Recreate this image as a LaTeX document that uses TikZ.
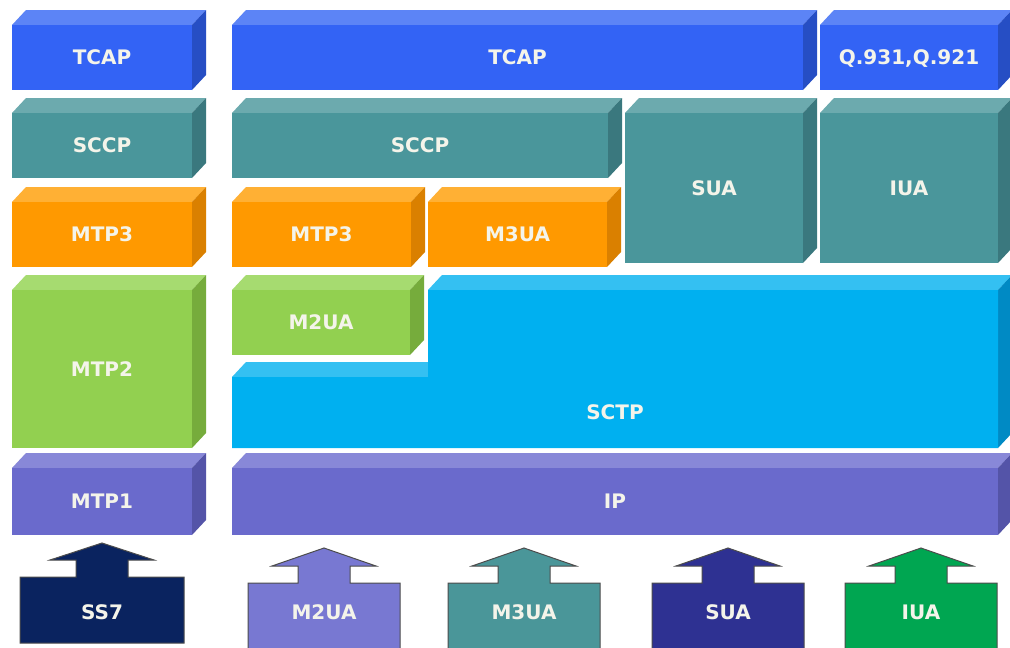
\documentclass[tikz,border=0pt]{standalone}
\usepackage{fontspec}
\setmainfont{DejaVu Sans}

% front / top / side shades of each layer colour
\definecolor{blueF}{RGB}{51,99,245}
\definecolor{blueT}{RGB}{92,132,246}
\definecolor{blueS}{RGB}{38,78,196}
\definecolor{tealF}{RGB}{74,150,155}
\definecolor{tealT}{RGB}{108,170,174}
\definecolor{tealS}{RGB}{58,120,126}
\definecolor{orngF}{RGB}{255,153,0}
\definecolor{orngT}{RGB}{255,176,52}
\definecolor{orngS}{RGB}{218,128,0}
\definecolor{grnF}{RGB}{146,208,80}
\definecolor{grnT}{RGB}{166,219,112}
\definecolor{grnS}{RGB}{118,172,60}
\definecolor{prplF}{RGB}{106,106,204}
\definecolor{prplT}{RGB}{136,136,216}
\definecolor{prplS}{RGB}{84,84,168}
\definecolor{skyF}{RGB}{0,176,240}
\definecolor{skyT}{RGB}{52,192,242}
\definecolor{skyS}{RGB}{0,138,196}
% feeding protocol arrows
\definecolor{ssnavy}{RGB}{10,35,95}
\definecolor{mtwo}{RGB}{120,120,210}
\definecolor{mthree}{RGB}{74,150,153}
\definecolor{suablue}{RGB}{46,49,146}
\definecolor{iuagreen}{RGB}{0,166,81}
\definecolor{labelcol}{RGB}{244,244,234}

\tikzset{
  lbl/.style={text=labelcol, font=\bfseries\fontsize{20}{20}\selectfont,
              inner sep=0pt, text height=14.6pt, text depth=0pt},
  arrowshape/.style={draw=black!70, line width=1pt, line join=miter},
}

% 3-D slab: #1 name, #2 x1, #3 y1, #4 x2, #5 y2 (front face), #6 colour, #7 label
\newcommand\stackblock[7]{%
  \fill[#6T] (#2,#3) -- (#2+14,#3-15) -- (#4+14,#3-15) -- (#4,#3) -- cycle;
  \fill[#6S] (#4,#3) -- (#4+14,#3-15) -- (#4+14,#5-15) -- (#4,#5) -- cycle;
  \fill[#6F] (#2,#3) rectangle (#4,#5);
  \node[lbl] (#1) at ({(#2+#4)/2},{(#3+#5)/2}) {#7};
}

% block arrow: #1 name, #2 centre x, #3 tip y, #4 box top, #5 box half width,
% #6 bottom, #7 colour, #8 label
\newcommand\feedarrow[8]{%
  \filldraw[arrowshape, fill=#7]
    (#2,#3) -- (#2+52,#4-17) -- (#2+26,#4-17) -- (#2+26,#4) -- (#2+#5,#4)
    -- (#2+#5,#6) -- (#2-#5,#6) -- (#2-#5,#4) -- (#2-26,#4) -- (#2-26,#4-17)
    -- (#2-52,#4-17) -- cycle;
  \node[lbl] (#1) at (#2,612) {#8};
}

\begin{document}
\begin{tikzpicture}[x=1pt,y=-1pt]
\clip (0,0) rectangle (1010,648);
\fill[white] (0,0) rectangle (1010,648);

% SS7 stack
\stackblock{tcapL}{12}{25}{192}{90}{blue}{TCAP}
\stackblock{sccpL}{12}{113}{192}{178}{teal}{SCCP}
\stackblock{mtpthreeL}{12}{202}{192}{267}{orng}{MTP3}
\stackblock{mtptwoL}{12}{290}{192}{448}{grn}{MTP2}
\stackblock{mtponeL}{12}{468}{192}{535}{prpl}{MTP1}

% SIGTRAN stack
\stackblock{ip}{232}{468}{998}{535}{prpl}{IP}

% SCTP: stepped slab
\fill[skyT] (232,377) -- (246,362) -- (428,362) -- (428,377) -- cycle;
\fill[skyT] (428,290) -- (442,275) -- (1012,275) -- (998,290) -- cycle;
\fill[skyS] (998,290) -- (1012,275) -- (1012,433) -- (998,448) -- cycle;
\fill[skyF] (232,377) -- (428,377) -- (428,290) -- (998,290) -- (998,448)
  -- (232,448) -- cycle;
\node[lbl] (sctp) at (615,412.5) {SCTP};

\stackblock{mtwoua}{232}{290}{410}{355}{grn}{M2UA}
\stackblock{mtpthreeR}{232}{202}{411}{267}{orng}{MTP3}
\stackblock{mthreeua}{428}{202}{607}{267}{orng}{M3UA}
\stackblock{sua}{625}{113}{803}{263}{teal}{SUA}
\stackblock{iua}{820}{113}{998}{263}{teal}{IUA}
\stackblock{sccpR}{232}{113}{608}{178}{teal}{SCCP}
\stackblock{tcapR}{232}{25}{803}{90}{blue}{TCAP}
\stackblock{qsig}{820}{25}{998}{90}{blue}{Q.931,Q.921}

% user adaptation feeds
\feedarrow{ssseven}{102}{543}{577}{82}{643}{ssnavy}{SS7}
\feedarrow{feedmtwo}{324}{548}{583}{76}{660}{mtwo}{M2UA}
\feedarrow{feedmthree}{524}{548}{583}{76}{660}{mthree}{M3UA}
\feedarrow{feedsua}{728}{548}{583}{76}{660}{suablue}{SUA}
\feedarrow{feediua}{921}{548}{583}{76}{660}{iuagreen}{IUA}
\end{tikzpicture}
\end{document}
